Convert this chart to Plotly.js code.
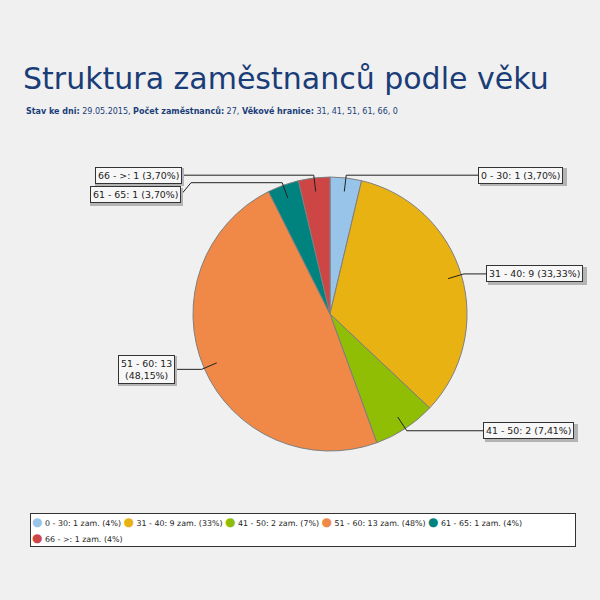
<!DOCTYPE html>
<html>
<head>
<meta charset="utf-8">
<script src="https://cdn.plot.ly/plotly-3.0.1.min.js"></script>
<style>
  html, body { margin: 0; padding: 0; background: #f0f0f0; }
  #chart { width: 600px; height: 600px; }
</style>
</head>
<body>
<div id="chart"></div>
<script>
// data
const ageGroups = ["0 - 30", "31 - 40", "41 - 50", "51 - 60", "61 - 65", "66 - >"];
const employeeCounts = [1, 9, 2, 13, 1, 1];
const groupColors = ["#98c4ea", "#e9b213", "#8fbe04", "#f08847", "#00837f", "#cd4545"];
const reportDate = "29.05.2015";
const ageBounds = [31, 41, 51, 61, 66, 0];

// pie geometry in page pixels
const W = 600, H = 600;
const CX = 330, CY = 314, R = 137;

// where each slice label box sits (edge x, extra vertical offset, line break)
const labelBoxX = [478, 486, 483, 175, 181, 182];
const labelBoxDy = [0, 0, 0, 0, 12, 0];
const labelBreak = [false, false, false, true, false, false];
const LABEL_FONT = 9.4;

const total = employeeCounts.reduce((a, b) => a + b, 0);
const fmtPct = (v) => (v / total * 100).toFixed(2).replace(".", ",");

// measure label text so the shadow box can be sized without text
const ctx = document.createElement("canvas").getContext("2d");
ctx.font = LABEL_FONT + "px 'DejaVu Sans'";

const shapes = [];
const annotations = [];
let cum = 0;

employeeCounts.forEach((v, i) => {
  const mid = (cum + v / 2) / total * 2 * Math.PI;
  cum += v;
  const sx = Math.sin(mid), cy = Math.cos(mid);
  const inX = CX + 0.9 * R * sx, inY = CY - 0.9 * R * cy;
  const elX = CX + 1.02 * R * sx, elY = CY - 1.02 * R * cy;
  const right = sx > 0;
  const bx = labelBoxX[i];
  const by = elY + labelBoxDy[i];

  let path = "M" + inX + "," + inY + " L" + elX + "," + elY;
  if (labelBoxDy[i]) {
    const kx = bx + (right ? -10 : 10);
    path += " L" + kx + "," + elY + " L" + bx + "," + by;
  } else {
    path += " L" + bx + "," + elY;
  }
  shapes.push({
    type: "path", xref: "x", yref: "y", layer: "above",
    path: path,
    line: { color: "#222222", width: 1 }
  });

  const lines = labelBreak[i]
    ? [ageGroups[i] + ": " + v, "(" + fmtPct(v) + "%)"]
    : [ageGroups[i] + ": " + v + " (" + fmtPct(v) + "%)"];
  const tw = Math.max(...lines.map((l) => ctx.measureText(l).width));
  const th = lines.length * LABEL_FONT * 1.3;

  const base = {
    xref: "x", yref: "y",
    x: bx, y: by,
    xanchor: right ? "left" : "right",
    yanchor: "middle",
    showarrow: false,
    borderwidth: 1,
    borderpad: 2,
    font: { family: "DejaVu Sans", size: LABEL_FONT, color: "#222222" }
  };
  // drop shadow first, then the box
  annotations.push(Object.assign({}, base, {
    text: " ",
    width: tw + 2, height: th,
    xshift: 2, yshift: -2,
    bgcolor: "#b4b4b4", bordercolor: "#b4b4b4"
  }));
  annotations.push(Object.assign({}, base, {
    text: lines.join("<br>"),
    align: "center",
    bgcolor: "#f7f7f7", bordercolor: "#333333"
  }));
});

// subtitle
annotations.push({
  xref: "paper", yref: "paper",
  x: 24 / W, y: 1 - 111 / H,
  xanchor: "left", yanchor: "middle",
  showarrow: false,
  text: "<b>Stav ke dni:</b> " + reportDate +
        ", <b>Počet zaměstnanců:</b> " + total +
        ", <b>Věkové hranice:</b> " + ageBounds.join(", "),
  font: { family: "DejaVu Sans", size: 8, color: "#1a3d78" }
});

// legend box
const legendItems = ageGroups.map((g, i) =>
  '<span style="color:' + groupColors[i] + '">●</span>' +
  '<span style="font-size:7.9px"> ' + g + ": " + employeeCounts[i] + " zam. (" +
  Math.round(employeeCounts[i] / total * 100) + "%) </span>"
);
annotations.push({
  xref: "paper", yref: "paper",
  x: 30 / W, y: 1 - 513 / H,
  xanchor: "left", yanchor: "top",
  showarrow: false,
  align: "left",
  width: 542,
  text: legendItems.slice(0, 5).join("") + "<br>" + legendItems.slice(5).join(""),
  bgcolor: "#ffffff",
  bordercolor: "#333333",
  borderwidth: 1,
  borderpad: 1,
  font: { family: "DejaVu Sans", size: 12, color: "#222222" }
});

const pieTrace = {
  type: "pie",
  labels: ageGroups,
  values: employeeCounts,
  sort: false,
  direction: "clockwise",
  rotation: 0,
  textinfo: "none",
  showlegend: false,
  domain: { x: [(CX - R) / W, (CX + R) / W], y: [1 - (CY + R) / H, 1 - (CY - R) / H] },
  marker: { colors: groupColors, line: { color: "#7f7f7f", width: 1 } },
  hovertemplate: "%{label}: %{value} (%{percent})<extra></extra>"
};

const layout = {
  width: W,
  height: H,
  margin: { l: 0, r: 0, t: 0, b: 0 },
  paper_bgcolor: "#f0f0f0",
  plot_bgcolor: "rgba(0,0,0,0)",
  showlegend: false,
  title: {
    text: "Struktura zaměstnanců podle věku",
    x: 23 / W, xanchor: "left", xref: "paper",
    y: 1 - 68 / H, yanchor: "top", yref: "paper",
    font: { family: "DejaVu Sans", size: 30, color: "#1a3d78" }
  },
  xaxis: { range: [0, W], visible: false, fixedrange: true, domain: [0, 1] },
  yaxis: { range: [H, 0], visible: false, fixedrange: true, domain: [0, 1] },
  shapes: shapes,
  annotations: annotations
};

Plotly.newPlot("chart", [pieTrace], layout, { displayModeBar: false, staticPlot: true });
</script>
</body>
</html>
